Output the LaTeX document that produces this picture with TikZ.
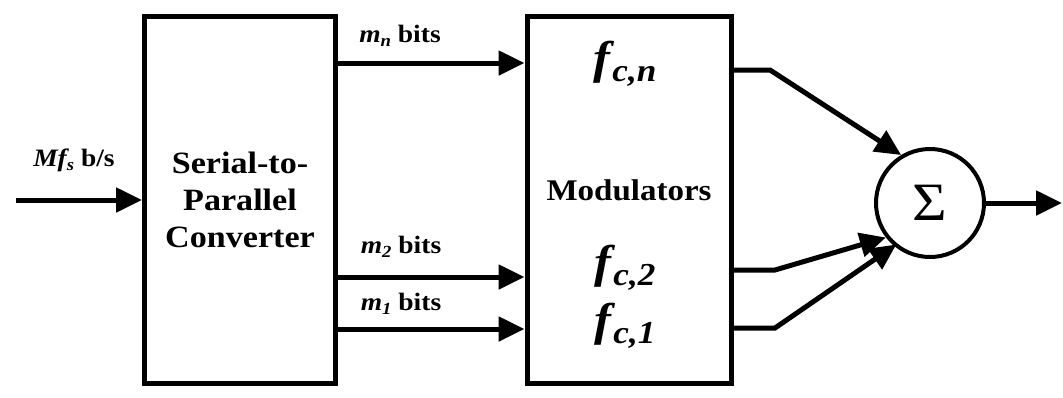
\documentclass[tikz,border=0pt]{standalone}
\usepackage{fontspec}
\setmainfont{Liberation Serif}[FakeStretch=1.1]
\usetikzlibrary{arrows.meta}
\newcommand\lbl[2]{{\bfseries\itshape #1\raisebox{-4pt}{\fontsize{17}{17}\selectfont #2}}}
\newcommand\fc[1]{{\bfseries\itshape f\kern2pt\raisebox{-8pt}{\fontsize{32}{32}\selectfont c,#1}}}
\begin{document}
\begin{tikzpicture}[x=1pt,y=-1pt,
  blk/.style={draw,line width=5pt,rectangle,inner sep=0pt},
  wire/.style={line width=5pt},
  arr/.style={line width=5pt,-{Triangle[length=26pt,width=24pt]}},
  lab/.style={font=\fontsize{25}{28}\selectfont\bfseries,inner sep=0pt},
  flab/.style={font=\fontsize{46}{46}\selectfont,inner sep=0pt}]
\useasboundingbox (0,0) rectangle (1063,397);
\node[blk,minimum width=191pt,minimum height=367pt,align=center,
      font=\fontsize{31}{37}\selectfont\bfseries] (sp) at (240,200)
      {Serial-to-\\Parallel\\Converter};
\node[blk,minimum width=204pt,minimum height=367pt] (mod) at (629,200) {};
\node[font=\fontsize{30}{36}\selectfont\bfseries,inner sep=0pt] (modt) at (629,190) {Modulators};
\node[flab] (fn) at (625,64) {\fc{n}};
\node[flab] (f2) at (625,268) {\fc{2}};
\node[flab] (f1) at (625,326) {\fc{1}};
\node[draw,circle,line width=4pt,minimum size=108pt,inner sep=0pt] (sum) at (930,203)
      {\fontsize{54}{54}\selectfont Σ};
% labels
\node[lab] (lin) at (74,160) {\lbl{Mf}{s} b/s};
\node[lab] (lmn) at (400,36) {\lbl{m}{n} bits};
\node[lab] (lm2) at (401,247) {\lbl{m}{2} bits};
\node[lab] (lm1) at (401,304) {\lbl{m}{1} bits};
% coordinates
\coordinate (in) at (16,200);
\coordinate (an) at (0,63);
\coordinate (a2) at (0,277);
\coordinate (a1) at (0,329);
\coordinate (on) at (0,70);
\coordinate (o2) at (0,270);
\coordinate (o1) at (0,328);
\coordinate (kn) at (770,70);
\coordinate (k2) at (775,270);
\coordinate (k1) at (775,328);
\coordinate (out) at (1062,203);
% connectors
\draw[arr] (in) -- (in -| sp.west);
\draw[arr] (an -| sp.east) -- (an -| mod.west);
\draw[arr] (a2 -| sp.east) -- (a2 -| mod.west);
\draw[arr] (a1 -| sp.east) -- (a1 -| mod.west);
\draw[arr] (on -| mod.east) -- (kn) -- (sum.121);
\draw[arr] (o2 -| mod.east) -- (k2) -- (sum.218);
\draw[arr] (o1 -| mod.east) -- (k1) -- ([shift={(-4pt,6pt)}]sum.238);
\draw[arr] (sum.east) -- (out);
\end{tikzpicture}
\end{document}
